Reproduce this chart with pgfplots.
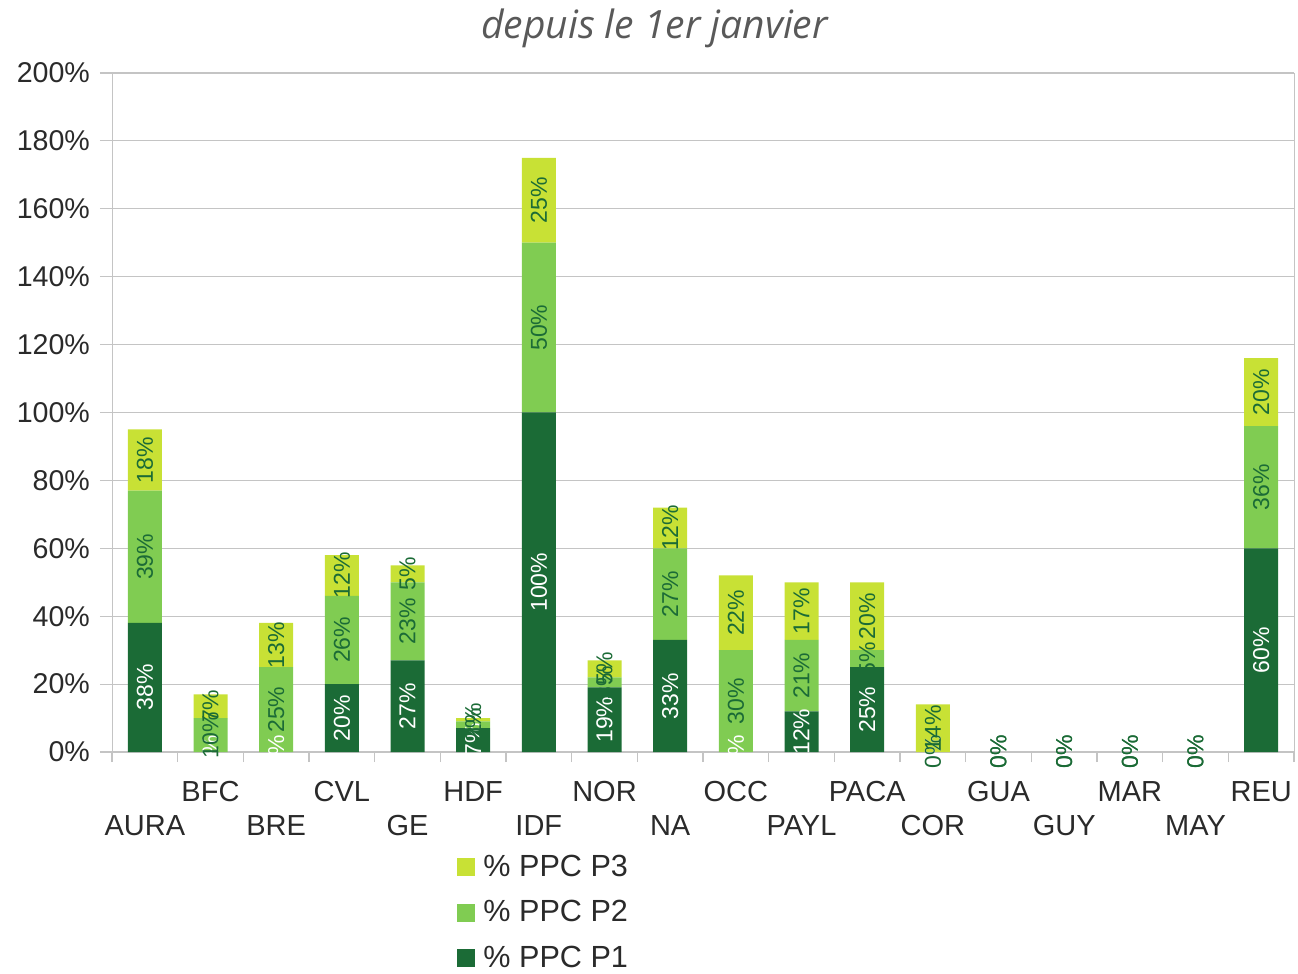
\documentclass[border=0pt]{standalone}
\usepackage{fontspec}
\setmainfont{Liberation Sans}
\newfontfamily\titlefont{Open Sans}
\usepackage{pgfplots}
\usepackage{pgfplotstable}
\pgfplotsset{compat=1.18}

\definecolor{ppcA}{HTML}{1B6B36}
\definecolor{ppcB}{HTML}{80CC52}
\definecolor{ppcC}{HTML}{C8E135}
\definecolor{gridgray}{HTML}{C4C4C4}
\definecolor{titlegray}{HTML}{595959}
\definecolor{txt}{HTML}{2A2A2A}

% P1, P2, P3 shares per region (percent)
\pgfplotstableread{
x name p1 p2 p3
0 AURA 38 39 18
1 BFC 0 10 7
2 BRE 0 25 13
3 CVL 20 26 12
4 GE 27 23 5
5 HDF 7 2 1
6 IDF 100 50 25
7 NOR 19 3 5
8 NA 33 27 12
9 OCC 0 30 22
10 PAYL 12 21 17
11 PACA 25 5 20
12 COR 0 0 14
13 GUA 0 0 0
14 GUY 0 0 0
15 MAR 0 0 0
16 MAY 0 0 0
17 REU 60 36 20
}\ppc

\pgfplotsset{
  frame/.style={scale only axis, width=591pt, height=339.5pt,
    xmin=-0.5, xmax=17.5, ymin=0, ymax=200, clip=false,
    /pgf/number format/assume math mode=true},
  seglabel/.style={draw=none, mark=none, forget plot,
    nodes near coords={\pgfmathprintnumber{\pgfplotspointmeta}\%},
    every node near coord/.append style={rotate=90, anchor=center,
      font=\fontsize{11.5}{12}\selectfont, text=#1}},
}

\begin{document}
\begin{tikzpicture}
\begin{axis}[
    frame,
    ybar stacked, bar width=17pt,
    axis line style={gridgray},
    ymajorgrids, grid style={gridgray, line width=0.6pt},
    tick align=outside,
    xtick pos=bottom, ytick pos=left,
    xtick={0,...,17},
    xticklabels={\vphantom{X}\\AURA, BFC, \vphantom{X}\\BRE, CVL, \vphantom{X}\\GE, HDF,
      \vphantom{X}\\IDF, NOR, \vphantom{X}\\NA, OCC, \vphantom{X}\\PAYL, PACA,
      \vphantom{X}\\COR, GUA, \vphantom{X}\\GUY, MAR, \vphantom{X}\\MAY, REU},
    xticklabel style={align=center, font=\fontsize{14.5}{17}\selectfont, text=txt, yshift=-5pt},
    major x tick style={draw=none},
    minor xtick={-0.5,0.5,...,17.5},
    minor x tick style={gridgray, line width=0.6pt},
    minor tick length=5pt,
    ytick={0,20,...,200},
    major tick length=6pt,
    y tick style={gridgray, line width=0.6pt},
    yticklabel={\pgfmathprintnumber{\tick}\%},
    yticklabel style={font=\fontsize{14.3}{16}\selectfont, text=txt, xshift=-1.5pt},
    title={depuis le 1er janvier},
    title style={at={(axis description cs:0.459,1)}, anchor=base, yshift=11pt,
      font=\titlefont\itshape\fontsize{19.5}{22}\selectfont, text=titlegray},
    legend style={at={(0.2919,-0.145)}, anchor=north west, draw=none, fill=none,
      font=\fontsize{15.3}{18}\selectfont, text=txt, row sep=6.6pt, inner sep=0pt},
    legend cell align=left,
    reverse legend,
    legend image code/.code={\fill[#1] (0pt,-4.5pt) rectangle (9pt,4.5pt);},
]
\addplot[fill=ppcA, draw=none] table[x=x, y=p1] {\ppc};
\addlegendentry{\hspace{2pt}\% PPC P1}
\addplot[fill=ppcB, draw=none] table[x=x, y=p2] {\ppc};
\addlegendentry{\hspace{2pt}\% PPC P2}
\addplot[fill=ppcC, draw=none] table[x=x, y=p3] {\ppc};
\addlegendentry{\hspace{2pt}\% PPC P3}
\coordinate (bl) at (rel axis cs:0,0);
\coordinate (tr) at (rel axis cs:1,1);
\end{axis}
% segment labels, centred in each stacked segment
\begin{axis}[frame, hide axis]
\addplot[seglabel=white, point meta=\thisrow{p1}]
  table[x=x, y expr=\thisrow{p1}/2] {\ppc};
\addplot[seglabel=ppcA, point meta=\thisrow{p2}]
  table[x=x, y expr=\thisrow{p1}+\thisrow{p2}/2] {\ppc};
\addplot[seglabel=ppcA, point meta=\thisrow{p3}]
  table[x=x, y expr=\thisrow{p1}+\thisrow{p2}+\thisrow{p3}/2] {\ppc};
\end{axis}
\pgfresetboundingbox
\path ([xshift=-56pt,yshift=-110.5pt]bl) rectangle ([xshift=2pt,yshift=36.5pt]tr);
\end{tikzpicture}
\end{document}
